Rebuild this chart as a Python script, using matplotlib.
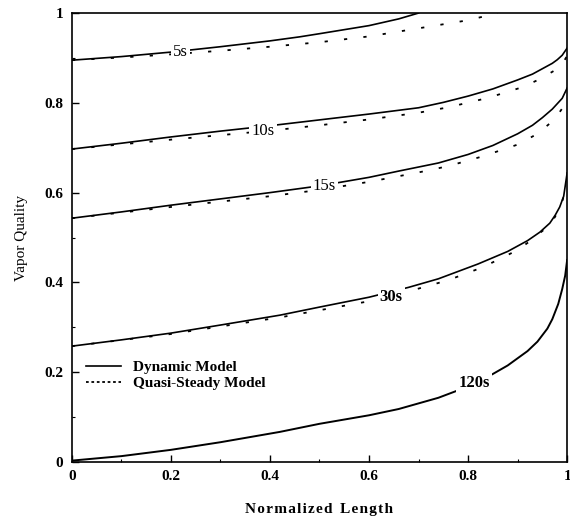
import matplotlib
matplotlib.use('Agg')
import matplotlib.pyplot as plt
from matplotlib.ticker import MultipleLocator

plt.rcParams['font.family'] = ['Liberation Serif', 'DejaVu Serif']

# 5s
x_5_dyn = [0, 0.1, 0.2, 0.3, 0.4, 0.46, 0.5, 0.6, 0.66, 0.7]
y_5_dyn = [0.895, 0.903, 0.913, 0.925, 0.938, 0.947, 0.954, 0.972, 0.987, 1.0]
x_5_qs = [0, 0.1, 0.2, 0.3, 0.4, 0.5, 0.6, 0.7, 0.8, 0.86]
y_5_qs = [0.895, 0.901, 0.908, 0.916, 0.925, 0.935, 0.948, 0.966, 0.984, 1.0]

# 10s
x_10_dyn = [0, 0.1, 0.2, 0.3, 0.4, 0.5, 0.6, 0.7, 0.75, 0.8, 0.85, 0.9, 0.93, 0.95, 0.97, 0.98, 0.99, 1.0]
y_10_dyn = [0.697, 0.71, 0.724, 0.737, 0.749, 0.762, 0.775, 0.789, 0.801, 0.815, 0.831, 0.851, 0.864, 0.876, 0.888, 0.896, 0.906, 0.922]
x_10_qs = [0, 0.2, 0.4, 0.5, 0.6, 0.7, 0.76, 0.84, 0.91, 0.945, 0.976, 0.99, 1.0]
y_10_qs = [0.697, 0.718, 0.738, 0.75, 0.763, 0.778, 0.79, 0.811, 0.835, 0.853, 0.873, 0.886, 0.905]

# 15s
x_15_dyn = [0, 0.1, 0.2, 0.3, 0.4, 0.5, 0.6, 0.66, 0.74, 0.8, 0.85, 0.9, 0.93, 0.95, 0.97, 0.98, 0.99, 1.0]
y_15_dyn = [0.543, 0.557, 0.572, 0.586, 0.60, 0.615, 0.634, 0.648, 0.666, 0.685, 0.705, 0.731, 0.75, 0.767, 0.786, 0.798, 0.81, 0.833]
x_15_qs = [0, 0.2, 0.4, 0.5, 0.6, 0.7, 0.76, 0.83, 0.9, 0.94, 0.966, 0.982, 0.993, 1.0]
y_15_qs = [0.543, 0.568, 0.592, 0.606, 0.624, 0.645, 0.659, 0.681, 0.707, 0.731, 0.755, 0.775, 0.792, 0.815]

# 30s
x_30_dyn = [0, 0.1, 0.2, 0.3, 0.42, 0.5, 0.6, 0.68, 0.74, 0.82, 0.88, 0.92, 0.945, 0.965, 0.976, 0.985, 0.993, 1.0]
y_30_dyn = [0.258, 0.272, 0.287, 0.305, 0.327, 0.345, 0.367, 0.389, 0.408, 0.441, 0.469, 0.493, 0.512, 0.532, 0.55, 0.568, 0.592, 0.644]
x_30_qs = [0, 0.2, 0.42, 0.6, 0.68, 0.76, 0.83, 0.9, 0.925, 0.956, 0.975, 0.988, 1.0]
y_30_qs = [0.258, 0.285, 0.322, 0.358, 0.380, 0.405, 0.434, 0.472, 0.492, 0.52, 0.545, 0.572, 0.62]

# 120s (both models coincide)
x_120 = [0, 0.1, 0.2, 0.3, 0.42, 0.5, 0.6, 0.66, 0.74, 0.8, 0.85, 0.88, 0.92, 0.94, 0.96, 0.97, 0.982, 0.99, 0.996, 1.0]
y_120 = [0.003, 0.013, 0.027, 0.044, 0.067, 0.085, 0.104, 0.118, 0.143, 0.168, 0.196, 0.215, 0.247, 0.268, 0.297, 0.318, 0.352, 0.385, 0.415, 0.45]

labels = ['5s', '10s', '15s', '30s', '120s']
label_x = [0.22, 0.386, 0.51, 0.645, 0.812]
label_y = [0.913, 0.737, 0.615, 0.367, 0.176]

fig = plt.figure(figsize=(5.7, 5.22), dpi=100)
ax = fig.add_axes([0.126, 0.115, 0.869, 0.86])

dash = (0, (1.8, 9))
ax.plot(x_5_dyn, y_5_dyn, color='black', lw=1.2, label='Dynamic Model')
ax.plot(x_5_qs, y_5_qs, color='black', lw=1.3, linestyle=dash, label='Quasi-Steady Model')
ax.plot(x_10_dyn, y_10_dyn, color='black', lw=1.2)
ax.plot(x_10_qs, y_10_qs, color='black', lw=1.3, linestyle=dash)
ax.plot(x_15_dyn, y_15_dyn, color='black', lw=1.2)
ax.plot(x_15_qs, y_15_qs, color='black', lw=1.3, linestyle=dash)
ax.plot(x_30_dyn, y_30_dyn, color='black', lw=1.2)
ax.plot(x_30_qs, y_30_qs, color='black', lw=1.3, linestyle=dash)
ax.plot(x_120, y_120, color='black', lw=1.4)

for i in range(len(labels)):
    w = 'bold' if i >= 3 else 'normal'
    ax.text(label_x[i], label_y[i], labels[i], fontsize=12, fontweight=w,
            ha='center', va='center',
            bbox=dict(facecolor='white', edgecolor='none', pad=1.5))

ax.set_xlim(0, 1)
ax.set_ylim(0, 1)
ax.xaxis.set_major_locator(MultipleLocator(0.2))
ax.yaxis.set_major_locator(MultipleLocator(0.2))
ax.xaxis.set_minor_locator(MultipleLocator(0.1))
ax.yaxis.set_minor_locator(MultipleLocator(0.1))
ax.set_xticklabels(['', '0', '0.2', '0.4', '0.6', '0.8', '1'])
ax.set_yticklabels(['', '0', '0.2', '0.4', '0.6', '0.8', '1'])
ax.tick_params(which='major', direction='in', length=5, width=1, labelsize=11, pad=6)
ax.tick_params(which='minor', direction='in', length=2.5, width=0.8)
for lab in ax.get_xticklabels() + ax.get_yticklabels():
    lab.set_fontweight('bold')
for s in ax.spines.values():
    s.set_linewidth(1.2)

ax.set_xlabel('N o r m a l i z e d   L e n g t h'.replace('   ', '\u2002').replace(' ', '\u200a'),
              fontsize=11, fontweight='bold', labelpad=14)
ax.set_ylabel('Vapor Quality', fontsize=11, labelpad=12)

leg = ax.legend(loc='lower left', bbox_to_anchor=(0.0, 0.13), frameon=False,
                handlelength=2.3, handletextpad=0.8, labelspacing=0.15,
                prop={'weight': 'bold', 'size': 11})
leg.get_lines()[1].set_linestyle((0, (1.5, 1.5)))

plt.savefig('out.png', dpi=100)
